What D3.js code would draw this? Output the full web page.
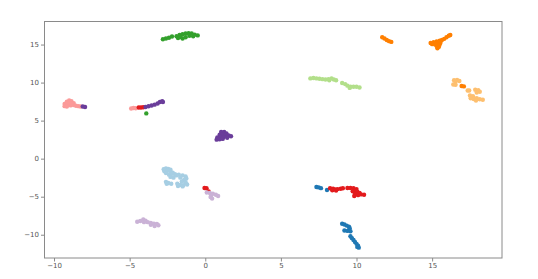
<!DOCTYPE html>
<html>
<head>
<meta charset="utf-8">
<script src="https://cdn.jsdelivr.net/npm/d3@7"></script>
<style>
  body { margin: 0; background: #fff; }
  .tick text { font-family: "DejaVu Sans", sans-serif; font-size: 7px; fill: #555; }
</style>
</head>
<body>
<svg id="svg" width="538" height="279"></svg>
<script>
// embedding, points per cluster
var xTicks = [-10, -5, 0, 5, 10, 15];
var yTicks = [-10, -5, 0, 5, 10, 15];

var lightBlue = [[-2.75,-1.4],[-2.6,-1.3],[-2.45,-1.35],[-2.3,-1.45],[-2.7,-1.65],[-2.5,-1.6],[-2.3,-1.7],[-2.15,-1.85],[-2.6,-1.9],
  [-2.4,-2.1],[-2.2,-2.0],[-2.0,-2.05],[-2.3,-2.4],[-2.1,-2.5],[-1.9,-2.2],
  [-1.75,-2.1],[-1.5,-2.2],[-1.3,-2.35],[-1.25,-2.6],[-1.4,-2.8],[-1.55,-3.0],[-1.3,-3.1],[-1.2,-3.4],[-1.45,-3.5],[-1.65,-2.5],
  [-2.6,-3.05],[-2.45,-3.2],[-2.25,-3.3],[-2.55,-3.3],
  [-1.85,-3.3],[-1.65,-3.45],[-1.8,-3.6],[-1.5,-3.65]];
var blue = [[7.35,-3.72],[7.5,-3.78],[7.65,-3.88],[8.05,-4.12],
  [9.05,-8.55],[9.2,-8.65],[9.35,-8.8],[9.5,-8.95],[9.55,-9.15],[9.2,-9.45],[9.4,-9.5],[9.6,-9.55],
  [9.6,-10.2],[9.7,-10.45],[9.8,-10.7],[9.9,-10.95],[10.0,-11.2],[10.1,-11.45],[10.15,-11.7],[10.05,-11.6]];
var lightGreen = [[6.95,10.55],[7.15,10.6],[7.35,10.55],[7.55,10.5],[7.75,10.45],[7.95,10.4],[8.15,10.45],[8.35,10.55],[8.5,10.4],[8.65,10.3],[8.2,10.3],
  [9.05,9.95],[9.25,9.8],[9.4,9.6],[9.6,9.45],[9.8,9.45],[10.0,9.45],[10.2,9.35],[9.55,9.3]];
var green = [[-2.8,15.7],[-2.6,15.8],[-2.4,15.9],[-2.2,16.05],
  [-1.9,16.1],[-1.7,16.25],[-1.5,16.35],[-1.3,16.45],[-1.1,16.5],[-0.9,16.45],[-0.7,16.3],[-0.5,16.2],
  [-1.8,15.85],[-1.5,15.8],[-1.3,15.95],[-1.05,16.15],[-0.8,16.1],[-1.65,16.0],
  [-3.9,5.95]];
var pink = [[-9.3,6.9],[-9.3,7.2],[-9.15,7.5],[-9.0,7.65],[-8.85,7.55],[-8.7,7.3],[-9.1,7.1],[-8.9,7.0],[-9.15,6.85],
  [-8.7,7.05],[-8.55,6.95],[-8.4,6.9],[-8.25,6.85],[-9.0,7.35],[-8.85,7.2],
  [-4.9,6.6],[-4.75,6.65],[-4.6,6.62]];
var red = [[-4.4,6.72],[-4.25,6.72],[-4.1,6.75],
  [-0.05,-3.85],[0.08,-3.9],[0.22,-4.3],
  [8.25,-3.9],[8.45,-3.95],[8.6,-4.05],[8.75,-4.0],[8.95,-3.95],[9.1,-3.9],[8.4,-4.15],[8.65,-4.2],
  [9.4,-3.85],[9.6,-3.85],[9.8,-3.9],[10.0,-4.0],[9.9,-4.2],[9.75,-4.3],[10.05,-4.35],[10.2,-4.5],
  [9.9,-4.65],[10.1,-4.8],[10.3,-4.7],[10.5,-4.75],[9.85,-4.9]];
var lightOrange = [[16.45,10.3],[16.65,10.35],[16.8,10.2],[16.55,10.1],[16.4,9.75],[16.55,9.7],
  [17.35,8.95],[17.45,8.95],
  [17.85,9.05],[18.05,9.0],[18.15,8.8],[17.95,8.7],
  [17.5,8.3],[17.7,8.2],[17.55,7.95],[17.75,7.85],[17.95,7.95],[18.15,7.8],[18.35,7.75],[17.9,7.65]];
var orange = [[11.7,15.95],[11.85,15.8],[12.0,15.6],[12.15,15.45],[12.3,15.35],
  [14.9,15.2],[15.1,15.3],[15.3,15.4],[15.5,15.5],[15.65,15.6],[15.8,15.75],[15.95,15.95],[16.1,16.15],[16.2,16.25],
  [15.0,15.05],[15.2,15.0],[15.4,15.1],[15.55,15.25],[15.3,14.8],[15.45,14.7],[15.35,14.5],[15.5,15.0],
  [16.95,9.55],[17.1,9.5]];
var lightPurple = [[-4.5,-8.3],[-4.3,-8.2],[-4.1,-8.0],[-3.95,-8.15],[-3.8,-8.35],[-3.6,-8.45],[-3.4,-8.55],[-3.2,-8.6],
  [-3.1,-8.75],[-3.35,-8.85],[-3.6,-8.7],[-4.05,-8.35],
  [0.1,-4.45],[0.3,-4.5],[0.5,-4.6],[0.7,-4.75],[0.85,-4.9],[0.4,-4.8],[0.35,-5.05],[0.45,-5.25]];
var purple = [[-8.1,6.85],[-7.95,6.8],
  [-3.95,6.8],[-3.75,6.88],[-3.55,6.98],[-3.35,7.1],[-3.15,7.25],[-3.0,7.45],[-2.85,7.55],[-2.8,7.45],
  [1.05,3.5],[1.25,3.5],[1.4,3.3],[0.95,3.15],[1.15,3.15],[1.35,3.05],[1.55,3.05],[1.7,2.95],
  [0.8,2.8],[1.0,2.85],[1.2,2.8],[1.45,2.75],[0.75,2.5],[0.95,2.55],[1.15,2.6]];

var clusters = [lightBlue, blue, lightGreen, green, pink, red, lightOrange, orange, lightPurple, purple];
var colors = d3.schemePaired;

var margin = {left: 44.5, top: 21.5, right: 36, bottom: 21};
var width = 538, height = 279;

var svg = d3.select('svg');

var x = d3.scaleLinear()
    .domain([-10.63, 19.62])
    .range([margin.left, width - margin.right]);
var y = d3.scaleLinear()
    .domain([-13.06, 18.03])
    .range([height - margin.bottom, margin.top]);

var g = svg.append("g");
clusters.forEach(function(pts, i){
  g.selectAll(null)
    .data(pts)
  .enter().append("circle")
    .attr("cx", function(d) { return x(d[0]); })
    .attr("cy", function(d) { return y(d[1]); })
    .attr("r", 2.2)
    .attr("fill", colors[i]);
});

// frame
svg.append("rect")
  .attr("x", x.range()[0])
  .attr("y", y.range()[1])
  .attr("width", x.range()[1] - x.range()[0])
  .attr("height", y.range()[0] - y.range()[1])
  .attr("fill", "none")
  .attr("stroke", "#8a8a8a")
  .attr("stroke-width", 1);

var xAxis = svg.append("g")
  .attr("transform", "translate(0," + y.range()[0] + ")")
  .call(d3.axisBottom(x).tickValues(xTicks).tickSize(3.5).tickPadding(2));
var yAxis = svg.append("g")
  .attr("transform", "translate(" + x.range()[0] + ",0)")
  .call(d3.axisLeft(y).tickValues(yTicks).tickSize(3.5).tickPadding(2));

[xAxis, yAxis].forEach(function(a){
  a.select(".domain").remove();
  a.selectAll(".tick line").attr("stroke", "#8a8a8a");
});
</script>
</body>
</html>
